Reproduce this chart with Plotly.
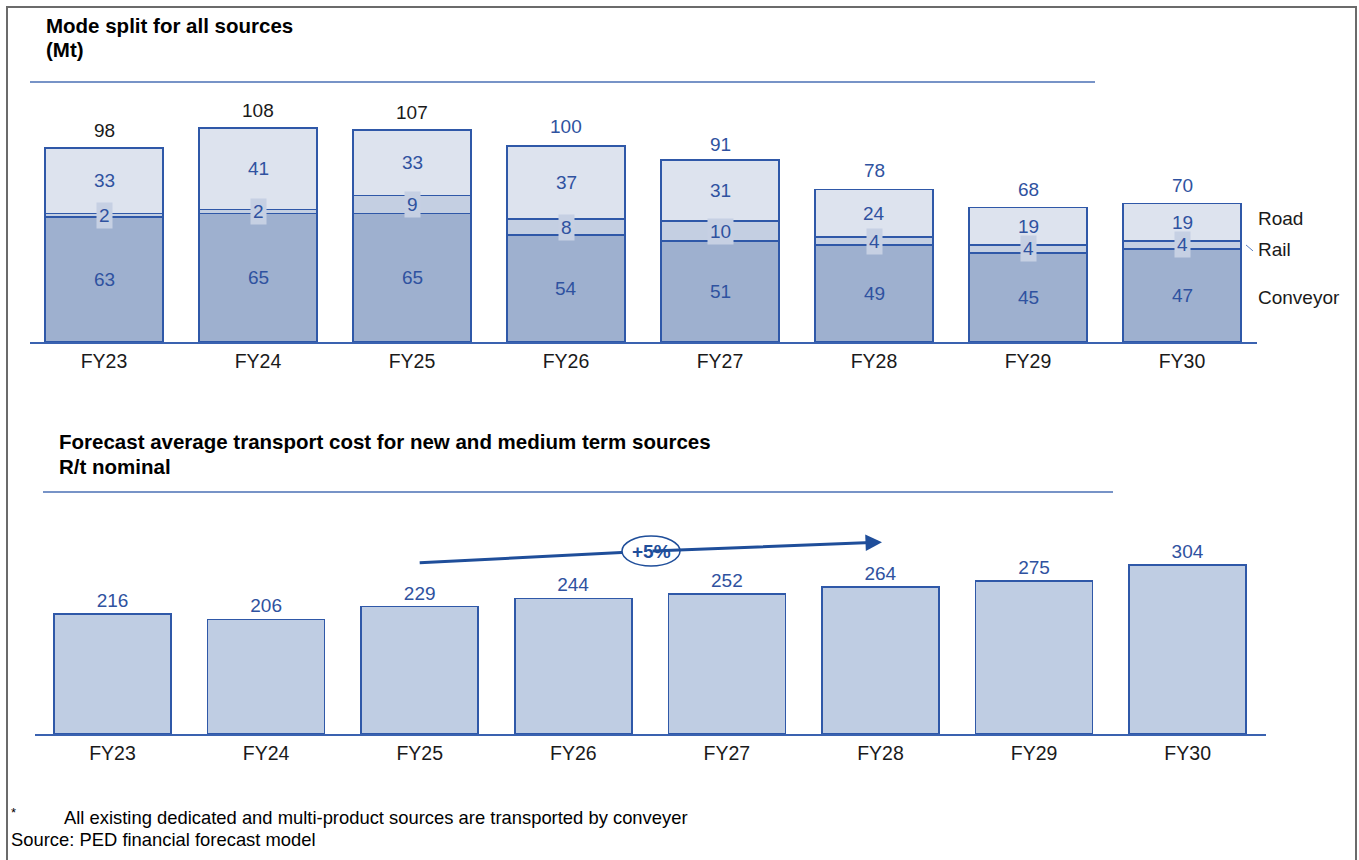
import plotly.graph_objects as go

W, H = 1359, 860

years = ["FY23", "FY24", "FY25", "FY26", "FY27", "FY28", "FY29", "FY30"]
conveyor = [63, 65, 65, 54, 51, 49, 45, 47]
rail = [2, 2, 9, 8, 10, 4, 4, 4]
road = [33, 41, 33, 37, 31, 24, 19, 19]
totals = [98, 108, 107, 100, 91, 78, 68, 70]
cost = [216, 206, 229, 244, 252, 264, 275, 304]

OUTLINE = "#2F58A8"
LABEL_BLUE = "#2F52A0"
DARK_BLUE = "#1F4E9A"
TEXT = "#1a1a1a"
FONT = "Liberation Sans, Arial, sans-serif"
NARROW = "Liberation Sans Narrow, Arial Narrow, Liberation Sans, Arial, sans-serif"


def px(x):
    return x / W


def py(y):
    return 1 - y / H


fig = go.Figure()

# --- upper chart: stacked mode split ---
for name, vals, fill in [("Conveyor", conveyor, "#9EB0CF"),
                         ("Rail", rail, "#C4CFE2"),
                         ("Road", road, "#DDE3EE")]:
    fig.add_trace(go.Bar(x=years, y=vals, name=name, xaxis="x", yaxis="y",
                         width=0.766, marker=dict(color=fill, line=dict(color=OUTLINE, width=1.6)),
                         hoverinfo="skip"))

# --- lower chart: average transport cost ---
fig.add_trace(go.Bar(x=years, y=cost, xaxis="x2", yaxis="y2", width=0.762,
                     marker=dict(color="#BFCDE3", line=dict(color=OUTLINE, width=1.6)),
                     text=[str(v) for v in cost], textposition="outside",
                     textfont=dict(family=FONT, size=19, color=LABEL_BLUE),
                     cliponaxis=False, hoverinfo="skip"))

annotations = []
shapes = []

# segment labels
for i, yr in enumerate(years):
    c, r, d = conveyor[i], rail[i], road[i]
    annotations.append(dict(x=yr, y=c / 2, xref="x", yref="y", text=str(c), showarrow=False,
                            font=dict(family=FONT, size=19, color=LABEL_BLUE)))
    annotations.append(dict(x=yr, y=c + r / 2, xref="x", yref="y", text=str(r), showarrow=False,
                            bgcolor="#C6D0E3", borderpad=2,
                            font=dict(family=FONT, size=19, color=LABEL_BLUE)))
    annotations.append(dict(x=yr, y=c + r + d / 2, xref="x", yref="y", text=str(d), showarrow=False,
                            font=dict(family=FONT, size=19, color=LABEL_BLUE)))
    annotations.append(dict(x=yr, y=totals[i], xref="x", yref="y", text=str(totals[i]),
                            showarrow=False, yanchor="bottom", yshift=5,
                            font=dict(family=FONT, size=19, color=TEXT if i < 3 else LABEL_BLUE)))

# series names beside the last bar
last = len(years) - 1
lx = px(1256)
annotations.append(dict(x=lx, y=conveyor[last] + rail[last] + road[last] / 2 + 2, xref="paper", yref="y",
                        text="Road", showarrow=False, xanchor="left",
                        font=dict(family=FONT, size=19, color=TEXT)))
annotations.append(dict(x=lx, y=conveyor[last] + rail[last] / 2 - 2.5, xref="paper", yref="y",
                        text="Rail", showarrow=False, xanchor="left",
                        font=dict(family=FONT, size=19, color=TEXT)))
annotations.append(dict(x=lx, y=conveyor[last] / 2 - 1, xref="paper", yref="y",
                        text="Conveyor", showarrow=False, xanchor="left",
                        font=dict(family=FONT, size=19, color=TEXT)))
shapes.append(dict(type="line", xref="paper", yref="y",
                   x0=px(1246), x1=px(1253),
                   y0=conveyor[last] + rail[last] / 2, y1=conveyor[last] + rail[last] / 2 - 3,
                   line=dict(color="#5b7fc0", width=1)))


def note(x, y, text, size, family=FONT, bold=False):
    return dict(x=px(x), y=py(y), xref="paper", yref="paper",
                text=f"<b>{text}</b>" if bold else text,
                showarrow=False, xanchor="left", yanchor="middle",
                font=dict(family=family, size=size, color="#000"))


# titles, footnote and rules
annotations += [
    note(44, 25, "Mode split for all sources", 20.5, bold=True),
    note(44, 50, "(Mt)", 20.5, bold=True),
    note(57, 442, "Forecast average transport cost for new and medium term sources", 20.5, bold=True),
    note(57, 466, "R/t nominal", 20.5, bold=True),
    note(9, 812, "*", 13, NARROW),
    note(62, 817, "All existing dedicated and multi-product sources are transported by conveyer", 18.4, NARROW),
    note(9, 839, "Source: PED financial forecast model", 18.4, NARROW),
]

shapes += [
    dict(type="line", xref="paper", yref="paper", x0=px(30), x1=px(1095), y0=py(82), y1=py(82),
         line=dict(color="#4A6FB5", width=1.5)),
    dict(type="line", xref="paper", yref="paper", x0=px(43), x1=px(1113), y0=py(492), y1=py(492),
         line=dict(color="#4A6FB5", width=1.5)),
    # outer frame
    dict(type="rect", xref="paper", yref="paper", x0=px(7), x1=px(1356), y0=py(870), y1=py(7),
         line=dict(color="#6b6b6b", width=2)),
]

# growth arrow across the cost bars: FY25 -> FY28
a_x0, a_y0 = 2.0, 308
a_x1, a_y1 = 5.01, 345
e_x, e_y = 3.506, 329
shapes.append(dict(type="line", xref="x2", yref="y2", x0=a_x0, y0=a_y0, x1=e_x, y1=e_y,
                   line=dict(color=DARK_BLUE, width=3)))
annotations.append(dict(x=a_x1, y=a_y1, ax=e_x, ay=e_y, xref="x2", yref="y2", axref="x2", ayref="y2",
                        text="", showarrow=True, arrowhead=2, arrowsize=1.1, arrowwidth=3,
                        arrowcolor=DARK_BLUE))
shapes.append(dict(type="circle", xref="x2", yref="y2", xsizemode="pixel", ysizemode="pixel",
                   xanchor=e_x, yanchor=e_y, x0=-29, x1=29, y0=-15, y1=15,
                   fillcolor="white", line=dict(color=DARK_BLUE, width=1.5)))
annotations.append(dict(x=e_x, y=e_y, xref="x2", yref="y2", text="<b>+5%</b>", showarrow=False,
                        font=dict(family=FONT, size=19, color=DARK_BLUE)))

axis_common = dict(type="category", categoryorder="array", categoryarray=years,
                   showgrid=False, zeroline=False, showline=True, linecolor="#3A62B0", linewidth=1.5,
                   ticks="", ticklabelstandoff=1,
                   tickfont=dict(family=FONT, size=19.5, color=TEXT), fixedrange=True)

fig.update_layout(
    width=W, height=H, margin=dict(l=0, r=0, t=0, b=0),
    paper_bgcolor="white", plot_bgcolor="rgba(0,0,0,0)",
    barmode="stack", showlegend=False,
    xaxis=dict(domain=[px(30), px(1257)], range=[-0.4805, 7.487], anchor="y", **axis_common),
    yaxis=dict(domain=[py(342), py(82)], range=[0, (342 - 82) / 1.98], visible=False),
    xaxis2=dict(domain=[px(35), px(1266)], range=[-0.5046, 7.51], anchor="y2", **axis_common),
    yaxis2=dict(domain=[py(734), py(492)], range=[0, (734 - 492) / 0.556], visible=False),
    annotations=annotations, shapes=shapes,
    font=dict(family=FONT),
)

fig.write_html("out.html")
